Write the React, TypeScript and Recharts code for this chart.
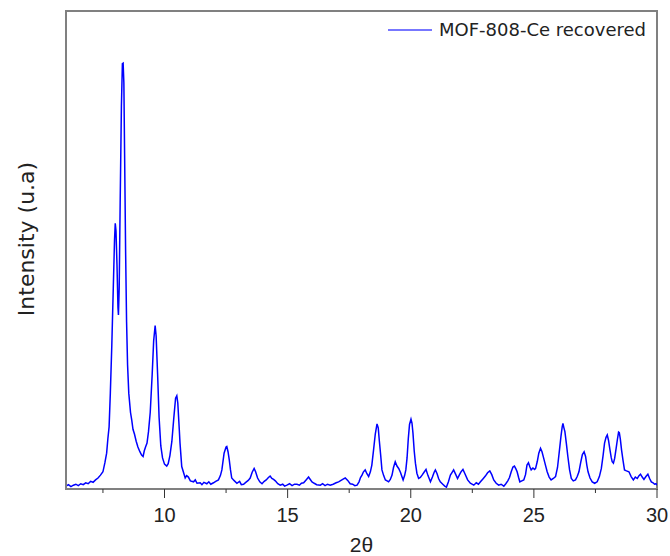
import React from 'react';
import { LineChart, Line, XAxis, YAxis, ReferenceArea } from 'recharts';

// 2θ positions (degrees) and intensity (arbitrary units, 0-100 scale)
const twoTheta = [
  6.0, 6.1, 6.2, 6.3, 6.4, 6.5, 6.6, 6.7, 6.8, 6.9, 7.0, 7.1, 7.2, 7.3, 7.4, 7.5, 7.58, 7.65, 7.7, 7.75,
  7.8, 7.86, 7.92, 7.97, 8.0, 8.03, 8.07, 8.11, 8.13, 8.16, 8.2, 8.25, 8.29, 8.32, 8.35, 8.38, 8.42, 8.46, 8.5, 8.55,
  8.62, 8.67, 8.72, 8.78, 8.85, 8.92, 9.0, 9.07, 9.13, 9.18, 9.23, 9.29, 9.35, 9.42, 9.5, 9.56, 9.62, 9.66, 9.72, 9.78,
  9.85, 9.92, 10.0, 10.09, 10.15, 10.22, 10.3, 10.38, 10.45, 10.5, 10.54, 10.6, 10.63, 10.7, 10.77, 10.84, 10.9, 10.97, 11.05, 11.18,
  11.25, 11.32, 11.45, 11.52, 11.6, 11.72, 11.8, 11.88, 11.99, 12.08, 12.19, 12.27, 12.33, 12.42, 12.5, 12.53, 12.58, 12.63, 12.68, 12.73,
  12.82, 12.94, 13.05, 13.12, 13.21, 13.3, 13.4, 13.48, 13.56, 13.64, 13.7, 13.78, 13.87, 13.96, 14.05, 14.13, 14.22, 14.29, 14.36, 14.43,
  14.5, 14.6, 14.7, 14.8, 14.88, 14.97, 15.08, 15.18, 15.28, 15.38, 15.48, 15.56, 15.65, 15.75, 15.85, 15.92, 15.99, 16.08, 16.18, 16.33,
  16.42, 16.52, 16.62, 16.73, 16.85, 16.97, 17.07, 17.17, 17.27, 17.34, 17.44, 17.54, 17.64, 17.73, 17.82, 17.9, 17.96, 18.02, 18.08, 18.15,
  18.22, 18.29, 18.36, 18.42, 18.49, 18.56, 18.63, 18.68, 18.72, 18.78, 18.83, 18.9, 18.97, 19.04, 19.1, 19.17, 19.24, 19.3, 19.37, 19.44,
  19.51, 19.58, 19.64, 19.69, 19.75, 19.8, 19.85, 19.9, 19.95, 20.01, 20.05, 20.09, 20.14, 20.19, 20.25, 20.32, 20.39, 20.46, 20.54, 20.62,
  20.7, 20.8, 20.88, 20.95, 21.0, 21.07, 21.13, 21.2, 21.3, 21.38, 21.45, 21.53, 21.61, 21.68, 21.74, 21.82, 21.9, 21.97, 22.04, 22.12,
  22.2, 22.31, 22.42, 22.56, 22.66, 22.75, 22.83, 22.93, 23.03, 23.12, 23.21, 23.29, 23.37, 23.47, 23.57, 23.67, 23.78, 23.86, 23.94, 24.01,
  24.08, 24.15, 24.21, 24.27, 24.32, 24.38, 24.43, 24.51, 24.59, 24.66, 24.72, 24.78, 24.84, 24.89, 24.96, 25.03, 25.07, 25.14, 25.2, 25.27,
  25.33, 25.4, 25.47, 25.54, 25.62, 25.7, 25.79, 25.88, 25.96, 26.04, 26.1, 26.15, 26.18, 26.22, 26.26, 26.32, 26.38, 26.45, 26.52, 26.6,
  26.69, 26.76, 26.83, 26.9, 26.97, 27.04, 27.1, 27.15, 27.2, 27.28, 27.37, 27.47, 27.57, 27.66, 27.74, 27.81, 27.87, 27.93, 27.98, 28.03,
  28.09, 28.14, 28.18, 28.23, 28.28, 28.34, 28.39, 28.44, 28.47, 28.51, 28.56, 28.62, 28.68, 28.76, 28.86, 28.95, 29.04, 29.12, 29.2, 29.27,
  29.33, 29.4, 29.47, 29.55, 29.63, 29.7, 29.77, 29.84, 29.9, 29.96, 30.0,
];

const intensity = [
  0.6, 0.9, 0.5, 0.8, 1.0, 0.7, 1.1, 0.9, 1.3, 1.1, 1.6, 1.4, 1.9, 2.3, 2.9, 3.6, 5.5, 7.5, 10.5, 13.0,
  20.0, 30.0, 42.0, 52.0, 55.6, 54.0, 47.0, 38.0, 36.4, 42.0, 60.0, 80.0, 89.0, 89.1, 85.0, 70.0, 50.0, 35.0, 26.0, 20.0,
  16.0, 14.4, 12.5, 11.5, 10.0, 8.8, 7.8, 7.1, 6.8, 8.0, 8.8, 9.6, 12.0, 16.0, 24.0, 31.0, 34.2, 32.0, 24.0, 15.0,
  9.0, 6.5, 5.2, 4.8, 5.3, 7.0, 10.0, 15.0, 19.0, 19.5, 18.0, 12.5, 9.6, 4.7, 3.5, 2.3, 2.8, 2.5, 1.7, 1.5,
  1.9, 1.2, 1.3, 0.9, 1.4, 1.1, 1.5, 1.0, 1.3, 1.6, 1.9, 2.8, 4.0, 7.5, 8.8, 8.9, 7.8, 6.1, 4.0, 2.3,
  1.8, 1.2, 1.6, 0.9, 1.0, 1.4, 1.8, 2.3, 3.5, 4.3, 3.6, 2.3, 1.5, 1.1, 1.6, 1.9, 2.4, 2.7, 2.2, 2.0,
  1.7, 1.1, 0.8, 1.0, 0.6, 0.8, 1.1, 0.7, 1.0, 1.0, 0.8, 1.2, 1.3, 1.9, 2.5, 2.0, 1.5, 1.2, 0.9, 0.8,
  1.1, 0.7, 1.0, 0.8, 1.0, 1.3, 1.5, 1.8, 2.1, 2.3, 1.8, 1.1, 1.0, 0.7, 0.8, 1.5, 2.4, 2.9, 3.6, 4.0,
  3.2, 2.6, 3.6, 5.0, 8.2, 11.5, 13.6, 12.8, 10.3, 7.0, 4.0, 2.8, 1.9, 1.7, 1.5, 2.0, 2.9, 4.5, 5.7, 4.8,
  4.3, 3.5, 2.6, 1.9, 2.8, 4.0, 6.5, 10.5, 13.5, 14.6, 13.8, 11.7, 8.0, 5.4, 3.3, 2.2, 2.4, 2.9, 3.5, 4.1,
  2.8, 1.5, 2.5, 3.5, 4.0, 3.2, 2.2, 1.5, 1.0, 0.6, 0.4, 1.5, 2.9, 3.5, 4.0, 3.1, 2.2, 2.9, 3.6, 4.1,
  3.2, 1.9, 1.2, 0.8, 1.3, 1.0, 1.5, 2.1, 2.7, 3.4, 3.8, 3.0, 1.9, 1.2, 0.8, 1.0, 0.6, 1.1, 1.7, 2.4,
  3.6, 4.6, 4.8, 4.2, 3.6, 2.4, 1.5, 1.7, 1.9, 3.0, 5.0, 5.5, 4.6, 4.0, 4.4, 4.1, 4.3, 5.8, 7.5, 8.5,
  7.8, 6.4, 5.0, 3.6, 2.5, 1.9, 2.2, 2.6, 4.5, 8.2, 11.0, 13.0, 13.7, 12.8, 12.0, 9.5, 6.8, 4.0, 2.2, 1.7,
  1.9, 2.6, 3.6, 5.5, 7.2, 7.8, 6.8, 5.0, 3.6, 2.3, 1.5, 1.2, 1.5, 2.6, 4.3, 7.0, 9.6, 10.8, 11.3, 10.2,
  8.2, 6.6, 5.7, 5.4, 6.4, 8.5, 10.3, 11.9, 11.8, 10.5, 8.2, 6.0, 4.0, 3.8, 3.6, 2.6, 1.9, 2.5, 2.2, 2.8,
  3.1, 2.5, 2.0, 2.6, 3.1, 2.2, 1.5, 1.3, 1.0, 1.1, 0.8,
];

const majorTicks = [10, 15, 20, 25, 30];
const minorTicks = [7.5, 12.5, 17.5, 22.5, 27.5];
const seriesName = 'MOF-808-Ce recovered';

const data = twoTheta.map((t, i) => ({ t, v: intensity[i] }));

const AxisTick = (props: any) => {
  const { x, y, payload } = props;
  const major = majorTicks.includes(payload.value);
  return (
    <g>
      <line x1={x} x2={x} y1={y} y2={y + (major ? 9 : 4)} stroke="#333" strokeWidth={1} />
      {major && (
        <text x={x} y={y + 33} textAnchor="middle" fontSize={20} fontFamily="Liberation Sans, Arial" fill="#222">
          {payload.value}
        </text>
      )}
    </g>
  );
};

// legend drawn as an overlay so it doesn't eat into the plot width
const LegendBox = () => (
  <div
    style={{
      position: 'absolute',
      top: 19,
      left: 386,
      display: 'flex',
      alignItems: 'center',
      fontFamily: 'DejaVu Sans, Verdana',
      fontSize: 18,
      color: '#222',
    }}
  >
    <svg width={46} height={20}>
      <line x1={2} x2={46} y1={10} y2={10} stroke="#4a4aff" strokeWidth={1.5} />
    </svg>
    <span style={{ marginLeft: 7, whiteSpace: 'nowrap' }}>{seriesName}</span>
  </div>
);

export default function App() {
  return (
    <div style={{ position: 'absolute', left: 0, top: 0, width: 670, height: 556 }}>
      <LineChart width={670} height={556} data={data} margin={{ top: 11, right: 13, left: 0, bottom: 0 }}>
        <XAxis
          dataKey="t"
          type="number"
          domain={[6, 30]}
          allowDataOverflow
          ticks={[...minorTicks, ...majorTicks].sort((a, b) => a - b)}
          interval={0}
          height={67}
          tickSize={0}
          tickMargin={0}
          tickLine={false}
          axisLine={{ stroke: '#808080', strokeWidth: 2 }}
          tick={<AxisTick />}
          label={{
            content: () => (
              <text x={361.5} y={552} textAnchor="middle" fontSize={21} fontFamily="Liberation Sans, Arial" fill="#222">
                2θ
              </text>
            ),
          }}
        />
        <YAxis
          type="number"
          domain={[0, 100]}
          allowDataOverflow
          width={66}
          tick={false}
          tickLine={false}
          axisLine={{ stroke: '#808080', strokeWidth: 2 }}
          label={{
            content: () => (
              <text
                x={34}
                y={239}
                transform="rotate(-90 34 239)"
                textAnchor="middle"
                fontSize={22}
                fontFamily="DejaVu Sans, Verdana"
                fill="#222"
              >
                Intensity (u.a)
              </text>
            ),
          }}
        />
        <ReferenceArea x1={6} x2={30} y1={0} y2={100} fill="none" stroke="#808080" strokeWidth={2} />
        <Line
          type="linear"
          dataKey="v"
          name={seriesName}
          stroke="#0000ff"
          strokeWidth={1.5}
          dot={false}
          isAnimationActive={false}
        />
      </LineChart>
      <LegendBox />
    </div>
  );
}
